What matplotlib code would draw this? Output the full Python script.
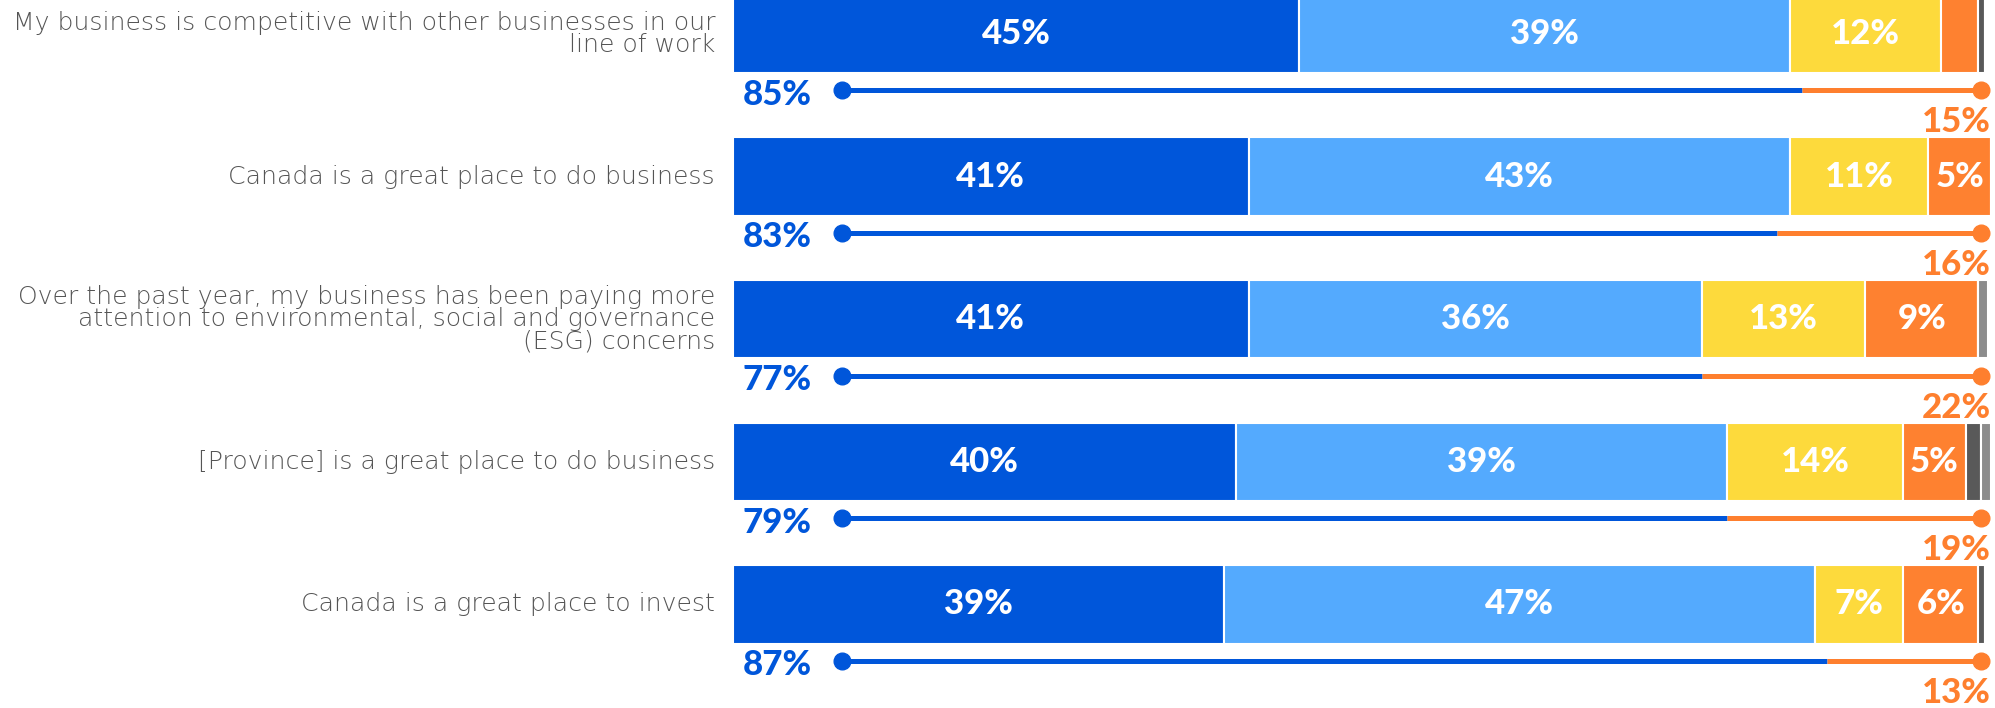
import numpy as np
import matplotlib.pyplot as plt

statements = [
    "My business is competitive with other businesses in our\nline of work",
    "Canada is a great place to do business",
    "Over the past year, my business has been paying more\nattention to environmental, social and governance\n(ESG) concerns",
    "[Province] is a great place to do business",
    "Canada is a great place to invest",
]
strongly_agree = [45, 41, 41, 40, 39]
somewhat_agree = [39, 43, 36, 39, 47]
somewhat_disagree = [12, 11, 13, 14, 7]
strongly_disagree = [3, 5, 9, 5, 6]
dont_know = [0.5, 0.4, 0, 1.2, 0.5]
prefer_not = [0, 0, 0.8, 0.8, 0]
top2 = [85, 83, 77, 79, 87]
bottom2 = [15, 16, 22, 19, 13]

colors = ["#0056DA", "#54AAFE", "#FDDA3C", "#FE8130", "#595959", "#8C8C8C"]
blue_txt = "#0056DA"
orange_txt = "#FE7F2E"
pct_font = dict(fontsize=25, fontweight="black", family="Lato")

W, H = 1995, 708
fig = plt.figure(figsize=(W / 100, H / 100), dpi=100)
# bar area: 0..100 % spans pixels 733..1991
ax = fig.add_axes([733 / W, 0, 1258 / W, 1])
ax.set_xlim(0, 100)
pitch = 142.6
ax.set_ylim((H - 34) / pitch, -34 / pitch)
ax.axis("off")

y = np.arange(len(statements))
series = [strongly_agree, somewhat_agree, somewhat_disagree,
          strongly_disagree, dont_know, prefer_not]
left = np.zeros(len(statements))
for vals, c in zip(series, colors):
    vals = np.array(vals, dtype=float)
    ax.barh(y, vals, left=left, height=0.55, color=c,
            edgecolor="white", linewidth=1.5)
    for yi, l, v in zip(y, left, vals):
        if v >= 5:
            ax.text(l + v / 2, yi, f"{v:.0f}%", ha="center", va="center",
                    color="white", **pct_font)
    left += vals

line_off = 0.396
x0, x1 = 8.66, 99.2
for yi, t, b, label in zip(y, top2, bottom2, statements):
    ly = yi + line_off
    ax.plot([x0, t], [ly, ly], color=blue_txt, lw=3.6,
            solid_capstyle="butt", clip_on=False)
    ax.plot([t, x1], [ly, ly], color=orange_txt, lw=3.6,
            solid_capstyle="butt", clip_on=False)
    ax.plot(x0, ly, "o", color=blue_txt, ms=12, clip_on=False)
    ax.plot(x1, ly, "o", color=orange_txt, ms=12, clip_on=False)
    ax.text(3.5, ly + 0.03, f"{t}%", ha="center", va="center",
            color=blue_txt, clip_on=False, **pct_font)
    ax.text(100, yi + 0.62, f"{b}%", ha="right", va="center",
            color=orange_txt, clip_on=False, **pct_font)
    ax.text(-1.43, yi, label, ha="right", va="center", color="#555555",
            fontsize=18.1, family="DejaVu Sans", fontweight="light",
            linespacing=0.9, clip_on=False)

fig.savefig("out.png", dpi=100)
